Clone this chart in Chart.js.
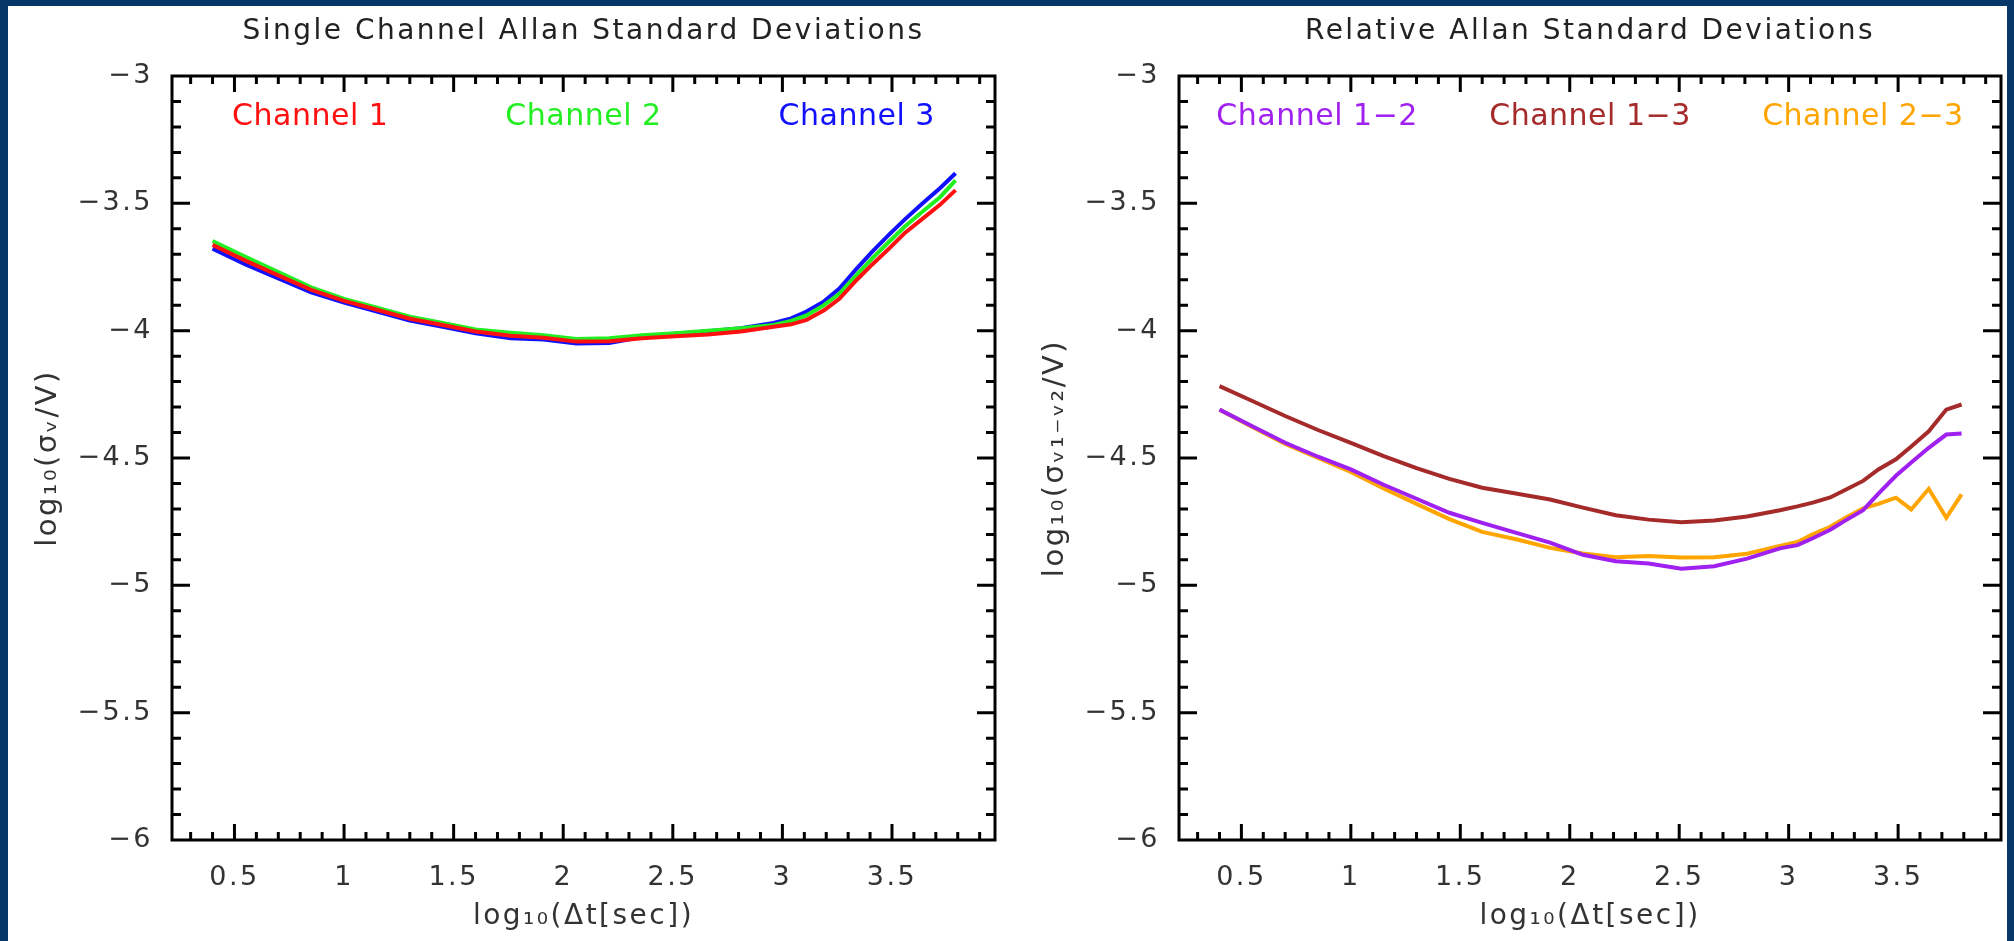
<!DOCTYPE html>
<html lang="en">
<head>
  <meta charset="UTF-8" />
  <title>Allan Standard Deviations</title>
  <script src="https://cdn.jsdelivr.net/npm/chart.js"></script>
  <style>
    body { margin: 0; width: 2014px; height: 941px; overflow: hidden; position: relative; background: #053769; }
    #paper { position: absolute; left: 8px; top: 6px; width: 1999px; height: 935px; background: #fff; }
    canvas { position: absolute; top: 0; }
    #single { left: 0; }
    #relative { left: 1007px; }
  </style>
</head>
<body>
  <div id="paper"></div>
  <canvas id="single" width="1007" height="941"></canvas>
  <canvas id="relative" width="1007" height="941"></canvas>

  <script>
    // log10 of the averaging time
    const logDt = [0.40, 0.55, 0.70, 0.85, 1.00, 1.15, 1.30, 1.45, 1.60, 1.76, 1.91, 2.06, 2.21, 2.36, 2.51,
                   2.66, 2.81, 2.96, 3.04, 3.11, 3.19, 3.26, 3.34, 3.41, 3.49, 3.56, 3.64, 3.72, 3.79];

    // single channels
    const ch1 = [-3.663, -3.725, -3.783, -3.840, -3.883, -3.918, -3.953, -3.978, -4.003, -4.020, -4.028, -4.043, -4.042, -4.030, -4.022,
                 -4.015, -4.003, -3.985, -3.975, -3.958, -3.920, -3.875, -3.800, -3.740, -3.675, -3.615, -3.560, -3.505, -3.448];
    const ch2 = [-3.648, -3.710, -3.770, -3.830, -3.875, -3.910, -3.945, -3.970, -3.995, -4.008, -4.018, -4.033, -4.030, -4.018, -4.010,
                 -4.000, -3.990, -3.978, -3.962, -3.940, -3.900, -3.855, -3.780, -3.716, -3.648, -3.590, -3.532, -3.475, -3.410];
    const ch3 = [-3.678, -3.740, -3.795, -3.850, -3.890, -3.925, -3.960, -3.985, -4.010, -4.030, -4.035, -4.050, -4.048, -4.025, -4.012,
                 -4.002, -3.990, -3.970, -3.952, -3.925, -3.885, -3.835, -3.755, -3.690, -3.620, -3.562, -3.500, -3.440, -3.382];

    // channel differences
    const ch12 = [-4.310, -4.375, -4.440, -4.495, -4.545, -4.605, -4.660, -4.715, -4.755, -4.795, -4.832, -4.880, -4.905, -4.914, -4.935,
                  -4.925, -4.895, -4.855, -4.842, -4.815, -4.782, -4.745, -4.705, -4.640, -4.570, -4.518, -4.460, -4.408, -4.404];
    const ch13 = [-4.218, -4.276, -4.335, -4.390, -4.441, -4.493, -4.540, -4.582, -4.617, -4.640, -4.663, -4.695, -4.725, -4.742, -4.752,
                  -4.745, -4.730, -4.705, -4.690, -4.675, -4.655, -4.625, -4.590, -4.545, -4.505, -4.455, -4.395, -4.310, -4.290];
    const ch23 = [-4.310, -4.378, -4.445, -4.500, -4.555, -4.620, -4.680, -4.740, -4.790, -4.820, -4.853, -4.875, -4.890, -4.885, -4.891,
                  -4.890, -4.876, -4.845, -4.830, -4.800, -4.770, -4.735, -4.698, -4.680, -4.656, -4.702, -4.621, -4.735, -4.643];

    const xTicks = [0.5, 1, 1.5, 2, 2.5, 3, 3.5];
    const yTicks = [-6, -5.5, -5, -4.5, -4, -3.5, -3];
    const xMin = 0.215, xMax = 3.97;
    const yMin = -6, yMax = -3;

    Chart.defaults.font.family = '"DejaVu Sans", sans-serif';
    Chart.defaults.color = '#333';

    // wide Hershey-like spacing for the axis text
    const spacing = {
      id: 'spacing',
      beforeDraw(chart) { chart.ctx.letterSpacing = '2.5px'; }
    };

    // boxed frame with inward ticks on all four sides
    const frame = {
      id: 'frame',
      afterDatasetsDraw(chart) {
        const { ctx, chartArea: a, scales: { x, y } } = chart;
        ctx.save();
        ctx.strokeStyle = '#000';
        ctx.lineWidth = 3;
        ctx.beginPath();
        for (let k = 3; k <= 39; k++) {
          const v = k / 10;
          if (v < x.min || v > x.max) continue;
          const px = x.getPixelForValue(v);
          const len = k % 5 === 0 ? 16 : 8;
          ctx.moveTo(px, a.bottom); ctx.lineTo(px, a.bottom - len);
          ctx.moveTo(px, a.top); ctx.lineTo(px, a.top + len);
        }
        for (let k = -59; k <= -31; k++) {
          const py = y.getPixelForValue(k / 10);
          const len = k % 5 === 0 ? 18 : 9;
          ctx.moveTo(a.left, py); ctx.lineTo(a.left + len, py);
          ctx.moveTo(a.right, py); ctx.lineTo(a.right - len, py);
        }
        ctx.stroke();
        ctx.strokeRect(a.left, a.top, a.right - a.left, a.bottom - a.top);
        ctx.restore();
      }
    };

    // coloured series names along the top of the box
    const channelNames = {
      id: 'channelNames',
      afterDraw(chart) {
        const { ctx, chartArea: a } = chart;
        const spots = [0.168, 0.5, 0.832];
        ctx.save();
        ctx.letterSpacing = '0.5px';
        ctx.font = '30px "DejaVu Sans"';
        ctx.textAlign = 'center';
        ctx.textBaseline = 'middle';
        chart.data.datasets.forEach((ds, i) => {
          ctx.fillStyle = ds.borderColor;
          ctx.fillText(ds.label, a.left + (a.right - a.left) * spots[i], a.top + 41);
        });
        ctx.restore();
      }
    };

    function makeChart(id, title, yTitle, series, padRight) {
      return new Chart(document.getElementById(id), {
        type: 'line',
        data: {
          datasets: series.map(s => ({
            label: s.label,
            data: logDt.map((x, i) => ({ x, y: s.values[i] })),
            borderColor: s.color,
            borderWidth: 4,
            pointRadius: 0,
            tension: 0
          }))
        },
        options: {
          responsive: false,
          animation: false,
          devicePixelRatio: 1,
          layout: { padding: { top: 0, right: padRight, bottom: 0, left: 0 } },
          plugins: {
            legend: { display: false },
            tooltip: { enabled: false },
            title: {
              display: true,
              fullSize: false,
              text: title,
              color: '#222',
              font: { size: 28, weight: 'normal' },
              padding: { top: 15, bottom: 27.4 }
            }
          },
          scales: {
            x: {
              type: 'linear',
              min: xMin,
              max: xMax,
              afterBuildTicks: s => { s.ticks = xTicks.map(v => ({ value: v })); },
              afterFit: s => { s.height = 101; },
              grid: { display: false, drawTicks: false },
              border: { display: false },
              ticks: { font: { size: 27 }, padding: 22, maxRotation: 0, autoSkip: false, callback: v => String(v) },
              title: { display: true, text: 'log₁₀(Δt[sec])', font: { size: 28 }, padding: { top: 0, bottom: 7 } }
            },
            y: {
              min: yMin,
              max: yMax,
              afterBuildTicks: s => { s.ticks = yTicks.map(v => ({ value: v })); },
              afterFit: s => { s.width = 172; },
              grid: { display: false, drawTicks: false },
              border: { display: false },
              ticks: { font: { size: 27 }, padding: 19, autoSkip: false, callback: v => String(v).replace('-', '−') },
              title: { display: true, text: yTitle, font: { size: 29 }, padding: { top: 31, bottom: 0 } }
            }
          }
        },
        plugins: [spacing, frame, channelNames]
      });
    }

    makeChart('single', 'Single Channel Allan Standard Deviations', 'log₁₀(σᵥ/V)', [
      { label: 'Channel 1', values: ch1, color: '#ff1010' },
      { label: 'Channel 2', values: ch2, color: '#22ee22' },
      { label: 'Channel 3', values: ch3, color: '#1010ff' }
    ], 12);

    makeChart('relative', 'Relative Allan Standard Deviations', 'log₁₀(σᵥ₁₋ᵥ₂/V)', [
      { label: 'Channel 1−2', values: ch12, color: '#a020f0' },
      { label: 'Channel 1−3', values: ch13, color: '#a52a2a' },
      { label: 'Channel 2−3', values: ch23, color: '#ffa500' }
    ], 13);
  </script>
</body>
</html>
